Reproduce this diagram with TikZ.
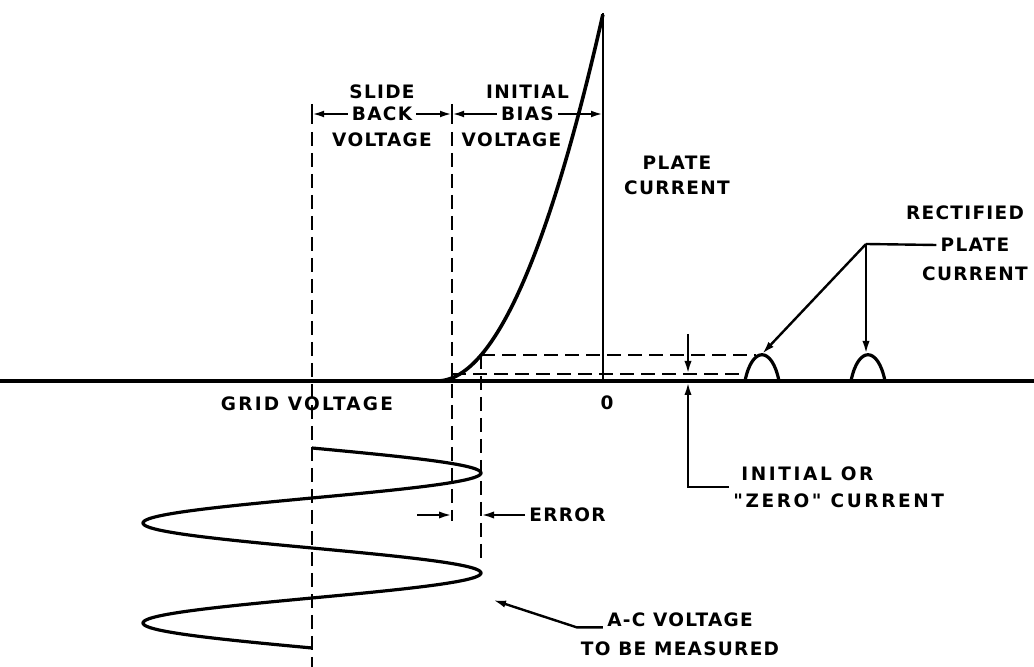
\documentclass[tikz,border=0pt]{standalone}
\usepackage{fontspec}
\newfontfamily\letterfont[LetterSpace=7]{DejaVu Sans}
\newcommand{\lblfont}{\letterfont\bfseries\fontsize{9.25}{11}\selectfont}
\usetikzlibrary{arrows.meta,positioning}
\tikzset{
  lbl/.style={font=\lblfont, inner xsep=2pt, inner ysep=0pt, align=center},
  spread/.style={font=\lblfont\addfontfeature{LetterSpace=#1}},
  arr/.style={-{Latex[length=6.5pt,width=3.6pt]}, line width=1.2pt},
  dimline/.style={{Latex[length=6pt,width=3.4pt]}-{Latex[length=6pt,width=3.4pt]}, line width=1.1pt},
  proj/.style={line width=1.3pt, dash pattern=on 7pt off 3.5pt},
  heavy/.style={line width=1.6pt},
}
\begin{document}
\begin{tikzpicture}[x=0.5pt,y=-0.5pt]
    \useasboundingbox (0,0) rectangle (1034,667);
    % reference points
    \coordinate (o) at (603,381);
    \coordinate (sbL) at (312,114);
    \coordinate (sbR) at (452,114);
    \coordinate (zt) at (603,114);
    \coordinate (p1) at (762,354);
    \coordinate (p2) at (866,354);
    % axes and tube characteristic
    \draw[heavy] (0,381) -- (1034,381);
    \draw[line width=1.3pt] (603,13) -- (o);
    \draw[line width=1.8pt] plot[domain=0:1,samples=60,smooth] ({437+166*\x},{381-367*\x*\x});
    % projections
    \draw[proj] (312,132) -- (312,667);
    \draw[proj] (452,132) -- (452,521);
    \draw[proj] (481,355) -- (481,565);
    \draw[proj] (481,355) -- (756,355);
    \draw[proj] (452,374) -- (746,374);
    % rectified pulses
    \foreach \px in {762,868}
        \draw[heavy] (\px-17,381) .. controls (\px-10,346) and (\px+10,346) .. (\px+17,381);
    % a-c voltage
    \draw[heavy] plot[domain=0:200,samples=201,smooth] ({312+169*sin(3.6*\x)},{448+\x});
    % dimensions at top
    \foreach \c in {sbL,sbR}
        \draw[line width=1.1pt] (\c) ++(0,-10) -- ++(0,20);
    \draw[dimline] (sbL) -- node[lbl, fill=white] (back) {BACK} (sbR);
    \node[lbl, above=3.5pt of back] (slide) {SLIDE};
    \node[lbl, below=5pt of back] (sbv) {VOLTAGE};
    \draw[dimline] (sbR) -- node[lbl, fill=white] (bias) {BIAS} (zt);
    \node[lbl, above=3.5pt of bias] (init) {INITIAL};
    \node[lbl, below=5pt of bias, xshift=-8pt] (ibv) {VOLTAGE};
    % axis labels
    \node[lbl] (pc) at (677,175) {PLATE\\[1.5pt]CURRENT};
    \node[lbl, spread=12] (gv) at (307,404) {GRID VOLTAGE};
    \node[lbl] (zero) at (607,403) {0};
    % rectified plate current
    \node[lbl] (rp) at (975,245) {PLATE};
    \node[lbl, above=9pt of rp, xshift=-5pt] (rect) {RECTIFIED};
    \node[lbl, below=7pt of rp] (rc) {CURRENT};
    \coordinate (lead) at (866,244);
    \draw[line width=1.2pt] (rp.west) -- (lead);
    \draw[arr] (lead) -- (p1);
    \draw[arr] (lead) -- (p2);
    % initial current
    \coordinate (zc0) at (688,334);
    \coordinate (zc1) at (688,374);
    \coordinate (zc2) at (688,382);
    \draw[arr] (zc0) -- (zc1);
    \node[lbl, spread=14, align=left, anchor=west] (izc) at (729,487)
        {\hspace*{4pt}INITIAL OR\\[2.5pt]"ZERO" CURRENT};
    \draw[arr] (izc.west) -| (zc2);
    % error
    \coordinate (errL0) at (417,515);
    \coordinate (errL) at (452,515);
    \coordinate (errR) at (481,515);
    \node[lbl, anchor=west] (err) at (525,515) {ERROR};
    \draw[arr] (errL0) -- (errL);
    \draw[arr] (err.west) -- (errR);
    % a-c voltage label
    \coordinate (acTip) at (493,600);
    \node[lbl] (acv) at (680,620) {A-C VOLTAGE};
    \node[lbl, below=6.75pt of acv] (tbm) {TO BE MEASURED};
    \draw[arr] (acv.south west) -- ++(-26,0) -- (acTip);
\end{tikzpicture}
\end{document}
